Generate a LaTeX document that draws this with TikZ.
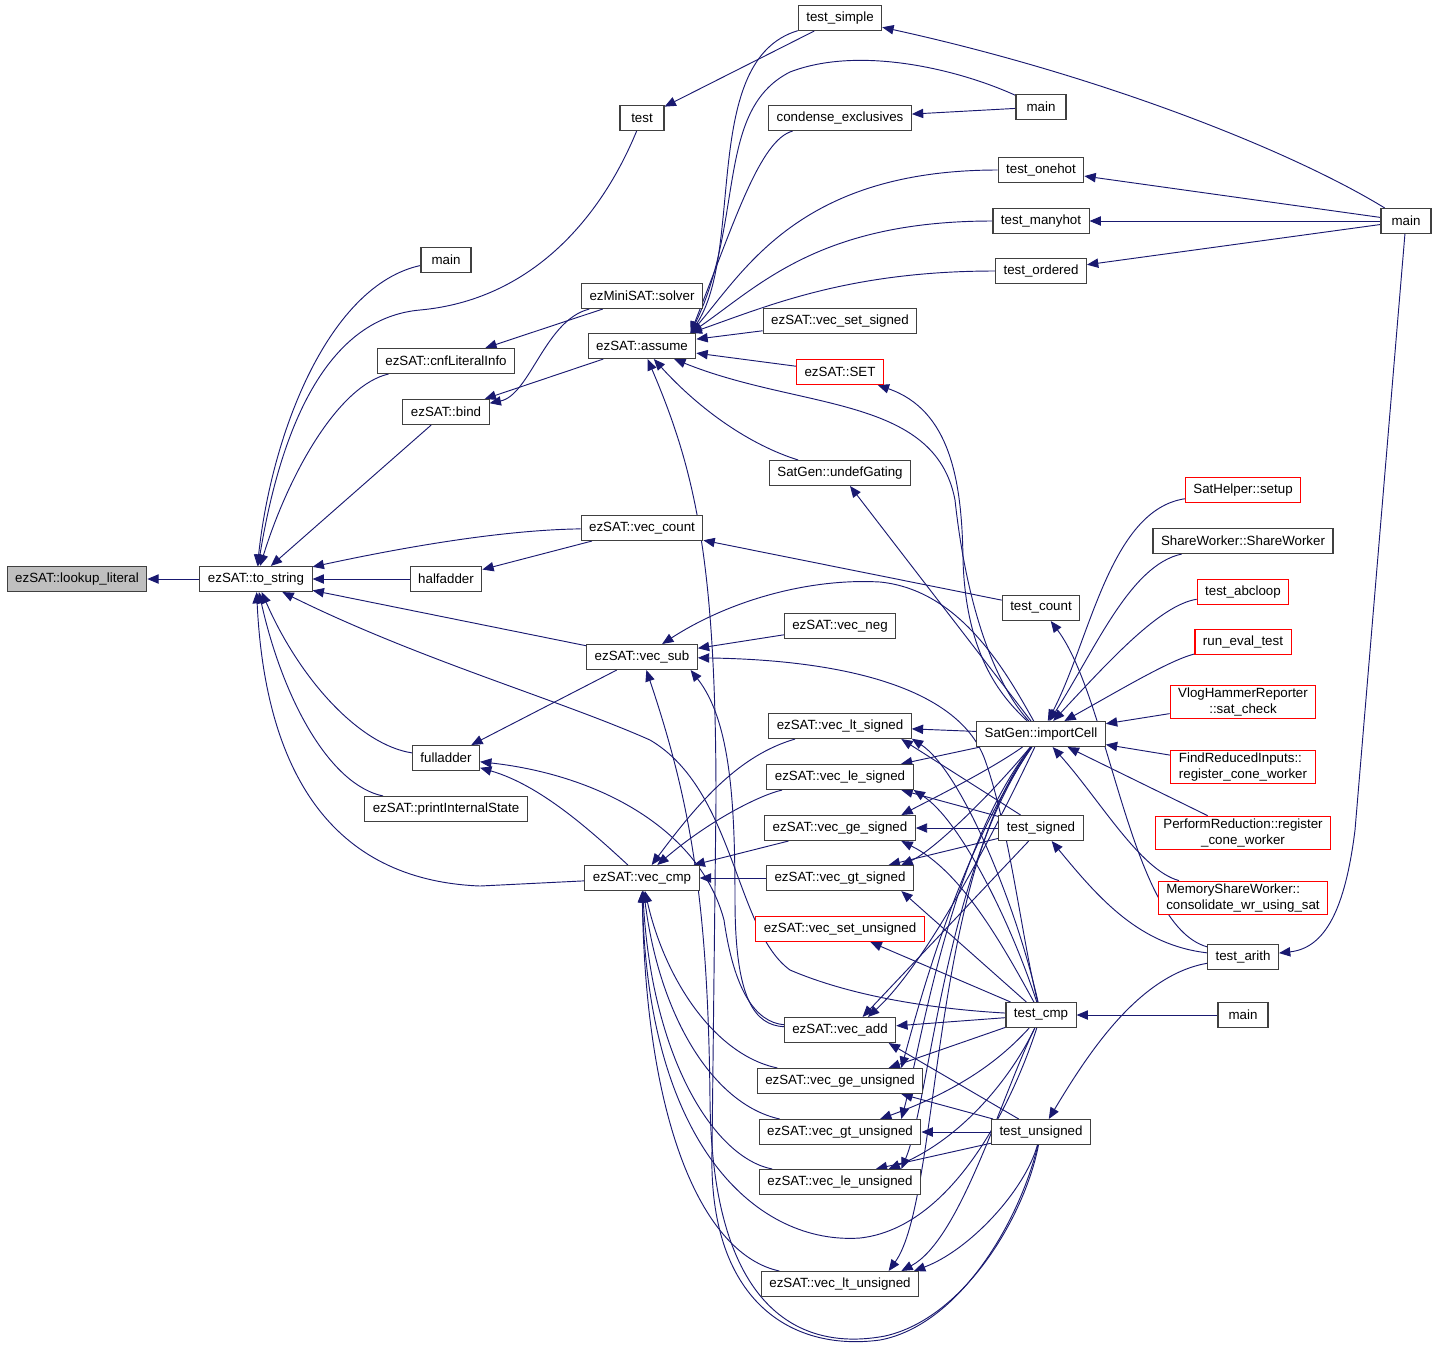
\documentclass[tikz,border=0pt]{standalone}
\usepackage{fontspec}
\setmainfont{Liberation Sans}
\usetikzlibrary{arrows.meta,backgrounds}
\definecolor{edgeblue}{HTML}{191970}
\definecolor{boxgray}{HTML}{BFBFBF}
\definecolor{boxline}{HTML}{404040}

\begin{document}
\begin{tikzpicture}[x=0.75pt,y=-0.75pt,>={Triangle[length=8.5pt,width=7pt]}]
\tikzstyle{fn}=[draw=boxline, line width=0.8pt, fill=white, text=black, inner xsep=6pt, inner ysep=2pt, minimum height=18.75pt, minimum width=33pt, font=\fontsize{10}{12}\selectfont, align=center]
\tikzstyle{fnred}=[fn, draw=red, text=black]

\useasboundingbox (0,0) rectangle (1437,1350);

\node[fn, fill=boxgray] (lookup) at (77,579) {ezSAT::lookup\_literal};
\node[fn] (tostring) at (256,579) {ezSAT::to\_string};
\node[fn, minimum width=37.5pt] (mainA) at (446,260) {main};
\node[fn] (cnf) at (446,361) {ezSAT::cnfLiteralInfo};
\node[fn] (bind) at (446,412) {ezSAT::bind};
\node[fn] (half) at (446,579) {halfadder};
\node[fn] (full) at (446,758) {fulladder};
\node[fn] (pis) at (446,809) {ezSAT::printInternalState};
\node[fn] (test) at (642,118) {test};
\node[fn] (solver) at (642,296) {ezMiniSAT::solver};
\node[fn] (assume) at (642,346) {ezSAT::assume};
\node[fn] (vcount) at (642,528) {ezSAT::vec\_count};
\node[fn] (vsub) at (642,657) {ezSAT::vec\_sub};
\node[fn] (vcmp) at (642,878) {ezSAT::vec\_cmp};
\node[fn] (tsimple) at (840,18) {test\_simple};
\node[fn] (condense) at (840,118) {condense\_exclusives};
\node[fn] (vsets) at (840,321) {ezSAT::vec\_set\_signed};
\node[fnred] (set) at (840,372) {ezSAT::SET};
\node[fn] (undef) at (840,473) {SatGen::undefGating};
\node[fn] (vneg) at (840,626) {ezSAT::vec\_neg};
\node[fn] (ltS) at (840,726) {ezSAT::vec\_lt\_signed};
\node[fn] (leS) at (840,777) {ezSAT::vec\_le\_signed};
\node[fn] (geS) at (840,828) {ezSAT::vec\_ge\_signed};
\node[fn] (gtS) at (840,878) {ezSAT::vec\_gt\_signed};
\node[fnred] (setU) at (840,929) {ezSAT::vec\_set\_unsigned};
\node[fn] (vadd) at (840,1030) {ezSAT::vec\_add};
\node[fn] (geU) at (840,1081) {ezSAT::vec\_ge\_unsigned};
\node[fn] (gtU) at (840,1132) {ezSAT::vec\_gt\_unsigned};
\node[fn] (leU) at (840,1182) {ezSAT::vec\_le\_unsigned};
\node[fn] (ltU) at (840,1284) {ezSAT::vec\_lt\_unsigned};
\node[fn, minimum width=37.5pt] (mainB) at (1041,107) {main};
\node[fn] (onehot) at (1041,170) {test\_onehot};
\node[fn] (manyhot) at (1041,221) {test\_manyhot};
\node[fn] (ordered) at (1041,271) {test\_ordered};
\node[fn] (tcount) at (1041,608) {test\_count};
\node[fn] (import) at (1041,734) {SatGen::importCell};
\node[fn] (tsigned) at (1041,828) {test\_signed};
\node[fn] (tcmp) at (1041,1015) {test\_cmp};
\node[fn] (tunsigned) at (1041,1132) {test\_unsigned};
\node[fnred] (setup) at (1243,490) {SatHelper::setup};
\node[fn] (share) at (1243,541) {ShareWorker::ShareWorker};
\node[fnred] (abc) at (1243,592) {test\_abcloop};
\node[fnred] (runeval) at (1243,642) {run\_eval\_test};
\node[fnred] (vlog) at (1243,702) {VlogHammerReporter\\::sat\_check};
\node[fnred, align=left] (findred) at (1243,767) {FindReducedInputs::\\register\_cone\_worker};
\node[fnred] (perfred) at (1243,833) {PerformReduction::register\\\_cone\_worker};
\node[fnred, align=left] (memshare) at (1243,898) {MemoryShareWorker::\\consolidate\_wr\_using\_sat};
\node[fn] (tarith) at (1243,957) {test\_arith};
\node[fn, minimum width=37.5pt] (mainC) at (1243,1015) {main};
\node[fn, minimum width=37.5pt] (mainD) at (1406,221) {main};

\begin{pgfonlayer}{background}
\begin{scope}[color=edgeblue, line width=0.7pt]
% to_string and its callers
\draw[<-] (lookup) -- (tostring);
\draw[<-] (tostring) .. controls (272,430) and (330,285) .. (mainA);
\draw[<-] (tostring) .. controls (282,420) and (330,318) .. (420,310) .. controls (530,300) and (600,220) .. (test);
\draw[<-] (tostring) .. controls (290,470) and (340,385) .. (cnf);
\draw[<-] (tostring) -- (bind);
\draw[<-] (tostring) .. controls (400,548) and (500,530) .. (vcount);
\draw[<-] (tostring) -- (half);
\draw[<-] (tostring) -- (vsub);
\draw[<-] (tostring) .. controls (420,660) and (560,700) .. (650,740) .. controls (735,790) and (735,930) .. (790,970) .. controls (860,1000) and (950,1010) .. (tcmp);
\draw[<-] (tostring) .. controls (300,680) and (360,745) .. (full);
\draw[<-] (tostring) .. controls (283,700) and (330,785) .. (pis);
\draw[<-] (tostring) .. controls (265,770) and (330,880) .. (480,886) -- (vcmp);

% solver, bind, test
\draw[<-] (cnf) -- (solver);
\draw[<-] (bind) .. controls (530,395) and (545,320) .. (solver);
\draw[<-] (bind) -- (assume);
\draw[<-] (test) -- (tsimple);
\draw[<-] (tsimple) .. controls (1100,75) and (1290,150) .. (mainD);

% assume
\draw[<-] (assume.15) .. controls (745,250) and (700,60) .. (tsimple);
\draw[<-] (assume.15) .. controls (745,220) and (715,110) .. (790,72) .. controls (860,45) and (960,70) .. (mainB);
\draw[<-] (assume.15) .. controls (735,220) and (760,140) .. (condense);
\draw[<-] (assume.15) .. controls (745,270) and (800,170) .. (onehot);
\draw[<-] (assume.15) .. controls (760,285) and (820,221) .. (manyhot);
\draw[<-] (assume.15) .. controls (770,305) and (850,271) .. (ordered);
\draw[<-] (condense) -- (mainB);
\draw[<-] (assume) -- (vsets);
\draw[<-] (assume) -- (set);
\draw[<-] (assume) .. controls (800,410) and (935,395) .. (955,500) .. controls (968,620) and (1000,690) .. (import);
\draw[<-] (assume) .. controls (700,410) and (750,445) .. (undef);
\draw[<-] (assume) .. controls (695,470) and (716,560) .. (716,800) -- (712,1150) .. controls (708,1300) and (790,1352) .. (880,1340) .. controls (960,1325) and (1020,1220) .. (tunsigned);

% vec_count, SET, undefGating
\draw[<-] (half) -- (vcount);
\draw[<-] (vcount) -- (tcount);
\draw[<-] (set) .. controls (950,410) and (962,480) .. (963,560) .. controls (966,660) and (1005,700) .. (import);
\draw[<-] (undef) -- (import);

% vec_sub
\draw[<-] (vsub) -- (vneg);
\draw[<-] (vsub) .. controls (730,600) and (810,578) .. (880,582) .. controls (960,590) and (1005,670) .. (import);
\draw[<-] (vsub) .. controls (850,660) and (960,690) .. (985,760) .. controls (1010,830) and (1022,940) .. (tcmp);
\draw[<-] (vsub) .. controls (690,800) and (708,900) .. (710,1100) .. controls (712,1310) and (800,1352) .. (885,1336) .. controls (965,1318) and (1025,1215) .. (tunsigned);
\draw[<-] (vsub.-15) .. controls (730,720) and (735,800) .. (735,900) .. controls (735,1000) and (755,1025) .. (vadd);

% fulladder
\draw[<-] (full) -- (vsub);
\draw[<-] (full) .. controls (540,785) and (590,830) .. (vcmp);
\draw[<-] (full) .. controls (600,775) and (700,830) .. (724,920) .. controls (734,990) and (755,1022) .. (vadd);

% vec_cmp
\draw[<-] (vcmp) .. controls (700,800) and (740,755) .. (ltS);
\draw[<-] (vcmp) .. controls (710,820) and (760,795) .. (leS);
\draw[<-] (vcmp) -- (geS);
\draw[<-] (vcmp) -- (gtS);
\draw[<-] (vcmp) .. controls (665,980) and (715,1055) .. (geU);
\draw[<-] (vcmp) .. controls (660,1020) and (715,1105) .. (gtU);
\draw[<-] (vcmp) .. controls (652,1060) and (715,1158) .. (leU);
\draw[<-] (vcmp) .. controls (646,1130) and (705,1255) .. (ltU);
\draw[<-] (vcmp) .. controls (648,1150) and (760,1245) .. (860,1238) .. controls (950,1228) and (1010,1110) .. (tcmp);

% signed comparisons
\draw[<-] (ltS) -- (import);
\draw[<-] (ltS.-12) -- (tsigned);
\draw[<-] (ltS.-10) .. controls (960,770) and (1015,900) .. (tcmp);
\draw[<-] (leS) -- (import);
\draw[<-] (leS.-12) -- (tsigned);
\draw[<-] (leS.-10) .. controls (960,820) and (1010,920) .. (tcmp);
\draw[<-] (geS.12) .. controls (930,800) and (990,770) .. (import);
\draw[<-] (geS) -- (tsigned);
\draw[<-] (geS.-12) .. controls (960,870) and (1000,940) .. (tcmp);
\draw[<-] (gtS.12) .. controls (935,850) and (995,790) .. (import);
\draw[<-] (gtS.15) -- (tsigned);
\draw[<-] (gtS.-12) -- (tcmp);
\draw[<-] (setU) -- (tcmp);

% vec_add and unsigned comparisons
\draw[<-] (vadd.25) .. controls (930,960) and (1000,820) .. (import);
\draw[<-] (vadd.30) -- (tsigned);
\draw[<-] (vadd) -- (tcmp);
\draw[<-] (vadd.-15) -- (tunsigned);
\draw[<-] (geU.12) .. controls (920,1000) and (960,850) .. (import);
\draw[<-] (geU.15) -- (tcmp);
\draw[<-] (geU.-12) -- (tunsigned);
\draw[<-] (gtU.12) .. controls (920,1050) and (950,850) .. (import);
\draw[<-] (gtU.18) .. controls (960,1090) and (1000,1060) .. (tcmp);
\draw[<-] (gtU) -- (tunsigned);
\draw[<-] (leU.12) .. controls (930,1100) and (945,870) .. (import);
\draw[<-] (leU.15) .. controls (960,1140) and (1010,1080) .. (tcmp);
\draw[<-] (leU.20) -- (tunsigned);
\draw[<-] (ltU.15) .. controls (940,1200) and (930,880) .. (import);
\draw[<-] (ltU.12) .. controls (960,1240) and (1000,1100) .. (tcmp);
\draw[<-] (ltU.10) .. controls (970,1250) and (1025,1190) .. (tunsigned);

% importCell callers
\draw[<-] (import) .. controls (1090,640) and (1110,510) .. (setup);
\draw[<-] (import) .. controls (1095,650) and (1130,565) .. (share);
\draw[<-] (import) .. controls (1110,660) and (1160,605) .. (abc);
\draw[<-] (import) .. controls (1120,690) and (1170,660) .. (runeval);
\draw[<-] (import) -- (vlog);
\draw[<-] (import) -- (findred);
\draw[<-] (import) -- (perfred);
\draw[<-] (import) .. controls (1100,800) and (1140,870) .. (memshare);

% test_arith and the mains
\draw[<-] (tcount) .. controls (1110,700) and (1130,925) .. (tarith);
\draw[<-] (tsigned) .. controls (1100,900) and (1140,945) .. (tarith);
\draw[<-] (tunsigned) .. controls (1090,1050) and (1140,975) .. (tarith);
\draw[<-] (tarith) .. controls (1325,948) and (1345,910) .. (1355,830) -- (mainD);
\draw[<-] (onehot) -- (mainD);
\draw[<-] (manyhot) -- (mainD);
\draw[<-] (ordered) -- (mainD);
\draw[<-] (tcmp) -- (mainC);
\end{scope}
\end{pgfonlayer}

\end{tikzpicture}
\end{document}
